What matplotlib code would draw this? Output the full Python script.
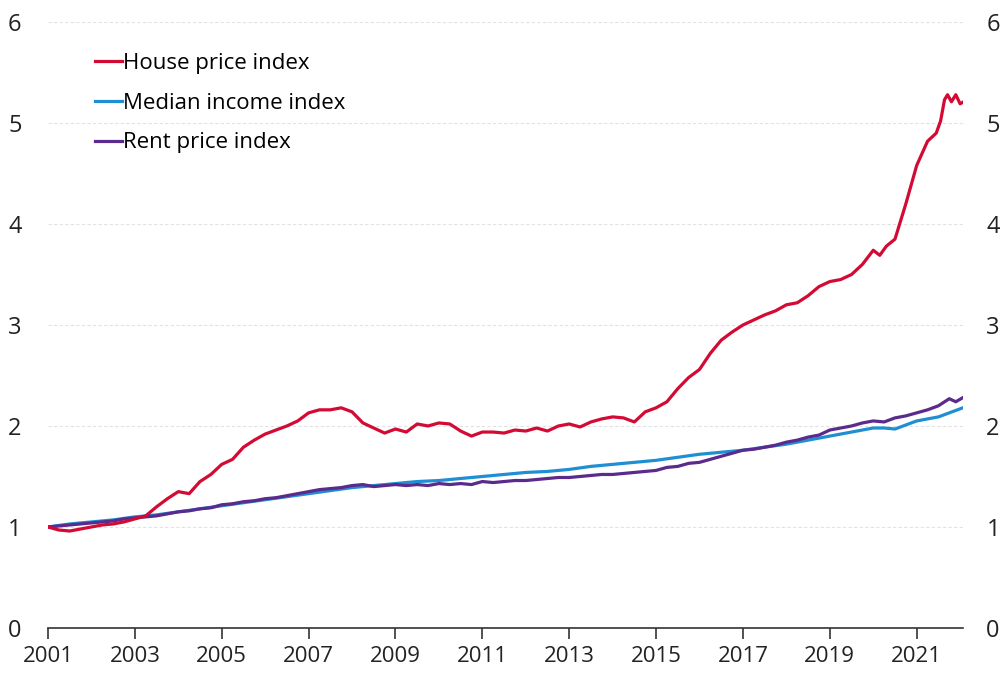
import matplotlib.pyplot as plt

# quarterly readings, index 2001 = 1
house_t = [2001.00, 2001.25, 2001.50, 2001.75, 2002.00, 2002.25, 2002.50, 2002.75,
           2003.00, 2003.25, 2003.50, 2003.75, 2004.00, 2004.25, 2004.50, 2004.75,
           2005.00, 2005.25, 2005.50, 2005.75, 2006.00, 2006.25, 2006.50, 2006.75,
           2007.00, 2007.25, 2007.50, 2007.75, 2008.00, 2008.25, 2008.50, 2008.75,
           2009.00, 2009.25, 2009.50, 2009.75, 2010.00, 2010.25, 2010.50, 2010.75,
           2011.00, 2011.25, 2011.50, 2011.75, 2012.00, 2012.25, 2012.50, 2012.75,
           2013.00, 2013.25, 2013.50, 2013.75, 2014.00, 2014.25, 2014.50, 2014.75,
           2015.00, 2015.25, 2015.50, 2015.75, 2016.00, 2016.25, 2016.50, 2016.75,
           2017.00, 2017.25, 2017.50, 2017.75, 2018.00, 2018.25, 2018.50, 2018.75,
           2019.00, 2019.25, 2019.50, 2019.75, 2020.00, 2020.15, 2020.30, 2020.50,
           2020.75, 2021.00, 2021.25, 2021.45, 2021.55, 2021.64, 2021.71, 2021.80,
           2021.90, 2022.00, 2022.08]
house = [1.00, 0.97, 0.96, 0.98, 1.00, 1.02, 1.03, 1.05,
         1.08, 1.11, 1.20, 1.28, 1.35, 1.33, 1.45, 1.52,
         1.62, 1.67, 1.79, 1.86, 1.92, 1.96, 2.00, 2.05,
         2.13, 2.16, 2.16, 2.18, 2.14, 2.03, 1.98, 1.93,
         1.97, 1.94, 2.02, 2.00, 2.03, 2.02, 1.95, 1.90,
         1.94, 1.94, 1.93, 1.96, 1.95, 1.98, 1.95, 2.00,
         2.02, 1.99, 2.04, 2.07, 2.09, 2.08, 2.04, 2.14,
         2.18, 2.24, 2.37, 2.48, 2.56, 2.72, 2.85, 2.93,
         3.00, 3.05, 3.10, 3.14, 3.20, 3.22, 3.29, 3.38,
         3.43, 3.45, 3.50, 3.60, 3.74, 3.69, 3.78, 3.85,
         4.20, 4.58, 4.82, 4.90, 5.02, 5.23, 5.28, 5.21,
         5.28, 5.19, 5.21]

income_t = [2001.0, 2001.5, 2002.0, 2002.5, 2003.0, 2003.5, 2004.0, 2004.5,
            2005.0, 2005.5, 2006.0, 2006.5, 2007.0, 2007.5, 2008.0, 2008.5,
            2009.0, 2009.5, 2010.0, 2010.5, 2011.0, 2011.5, 2012.0, 2012.5,
            2013.0, 2013.5, 2014.0, 2014.5, 2015.0, 2015.5, 2016.0, 2016.5,
            2017.0, 2017.5, 2018.0, 2018.5, 2019.0, 2019.5, 2020.0, 2020.25,
            2020.5, 2020.75, 2021.0, 2021.5, 2022.0, 2022.06]
income = [1.00, 1.03, 1.05, 1.07, 1.10, 1.12, 1.15, 1.18,
          1.21, 1.24, 1.27, 1.30, 1.33, 1.36, 1.39, 1.41,
          1.43, 1.45, 1.46, 1.48, 1.50, 1.52, 1.54, 1.55,
          1.57, 1.60, 1.62, 1.64, 1.66, 1.69, 1.72, 1.74,
          1.76, 1.79, 1.82, 1.86, 1.90, 1.94, 1.98, 1.98,
          1.97, 2.01, 2.05, 2.09, 2.17, 2.18]

rent_t = [2001.00, 2001.25, 2001.50, 2001.75, 2002.00, 2002.25, 2002.50, 2002.75,
          2003.00, 2003.25, 2003.50, 2003.75, 2004.00, 2004.25, 2004.50, 2004.75,
          2005.00, 2005.25, 2005.50, 2005.75, 2006.00, 2006.25, 2006.50, 2006.75,
          2007.00, 2007.25, 2007.50, 2007.75, 2008.00, 2008.25, 2008.50, 2008.75,
          2009.00, 2009.25, 2009.50, 2009.75, 2010.00, 2010.25, 2010.50, 2010.75,
          2011.00, 2011.25, 2011.50, 2011.75, 2012.00, 2012.25, 2012.50, 2012.75,
          2013.00, 2013.25, 2013.50, 2013.75, 2014.00, 2014.25, 2014.50, 2014.75,
          2015.00, 2015.25, 2015.50, 2015.75, 2016.00, 2016.25, 2016.50, 2016.75,
          2017.00, 2017.25, 2017.50, 2017.75, 2018.00, 2018.25, 2018.50, 2018.75,
          2019.00, 2019.25, 2019.50, 2019.75, 2020.00, 2020.25, 2020.50, 2020.75,
          2021.00, 2021.25, 2021.50, 2021.75, 2021.90, 2022.06]
rent = [1.00, 1.01, 1.02, 1.03, 1.04, 1.05, 1.06, 1.08,
        1.09, 1.10, 1.11, 1.13, 1.15, 1.16, 1.18, 1.19,
        1.22, 1.23, 1.25, 1.26, 1.28, 1.29, 1.31, 1.33,
        1.35, 1.37, 1.38, 1.39, 1.41, 1.42, 1.40, 1.41,
        1.42, 1.41, 1.42, 1.41, 1.43, 1.42, 1.43, 1.42,
        1.45, 1.44, 1.45, 1.46, 1.46, 1.47, 1.48, 1.49,
        1.49, 1.50, 1.51, 1.52, 1.52, 1.53, 1.54, 1.55,
        1.56, 1.59, 1.60, 1.63, 1.64, 1.67, 1.70, 1.73,
        1.76, 1.77, 1.79, 1.81, 1.84, 1.86, 1.89, 1.91,
        1.96, 1.98, 2.00, 2.03, 2.05, 2.04, 2.08, 2.10,
        2.13, 2.16, 2.20, 2.27, 2.24, 2.28]

year_ticks = list(range(2001, 2022, 2))
value_ticks = [0, 1, 2, 3, 4, 5, 6]

RED = '#d20a34'
BLUE = '#1f8fd3'
PURPLE = '#5a2a8c'

plt.rcParams['font.family'] = ['Open Sans', 'DejaVu Sans']

fig = plt.figure(figsize=(10.06, 6.73), dpi=100)
ax = fig.add_axes([0.0477, 0.0669, 0.9093, 0.9004])

for v in value_ticks[1:]:
    ax.axhline(v, color='#e2e2e2', lw=0.8, ls=(0, (3, 2)), zorder=0)

ax.plot(house_t, house, color=RED, lw=2.3, label='House price index', zorder=3)
ax.plot(income_t, income, color=BLUE, lw=2.3, label='Median income index', zorder=2)
ax.plot(rent_t, rent, color=PURPLE, lw=2.3, label='Rent price index', zorder=2.5)

ax.set_xlim(2001, 2022.06)
ax.set_ylim(0, 6)
for s in ['top', 'left', 'right']:
    ax.spines[s].set_visible(False)
ax.spines['bottom'].set_color('#333333')
ax.spines['bottom'].set_linewidth(1.2)

ax.set_xticks(year_ticks)
ax.set_xticklabels([str(y) for y in year_ticks])
ax.set_yticks(value_ticks)
ax.tick_params(axis='x', length=8, width=1.2, color='#333333', pad=5,
               labelsize=16, labelcolor='#222222')
ax.tick_params(axis='y', length=0, pad=19, labelsize=17, labelcolor='#222222')

# same scale repeated on the right side
ax2 = ax.twinx()
ax2.set_ylim(ax.get_ylim())
ax2.set_yticks(value_ticks)
ax2.tick_params(axis='y', length=0, pad=17, labelsize=17, labelcolor='#222222')
for s in ax2.spines.values():
    s.set_visible(False)

leg = ax.legend(loc='upper left', bbox_to_anchor=(0.042, 0.964), frameon=False,
                fontsize=16, handlelength=1.2, handletextpad=0.05,
                labelspacing=0.85, borderaxespad=0)
for line in leg.get_lines():
    line.set_linewidth(2.3)

fig.savefig('out.png', dpi=100)
